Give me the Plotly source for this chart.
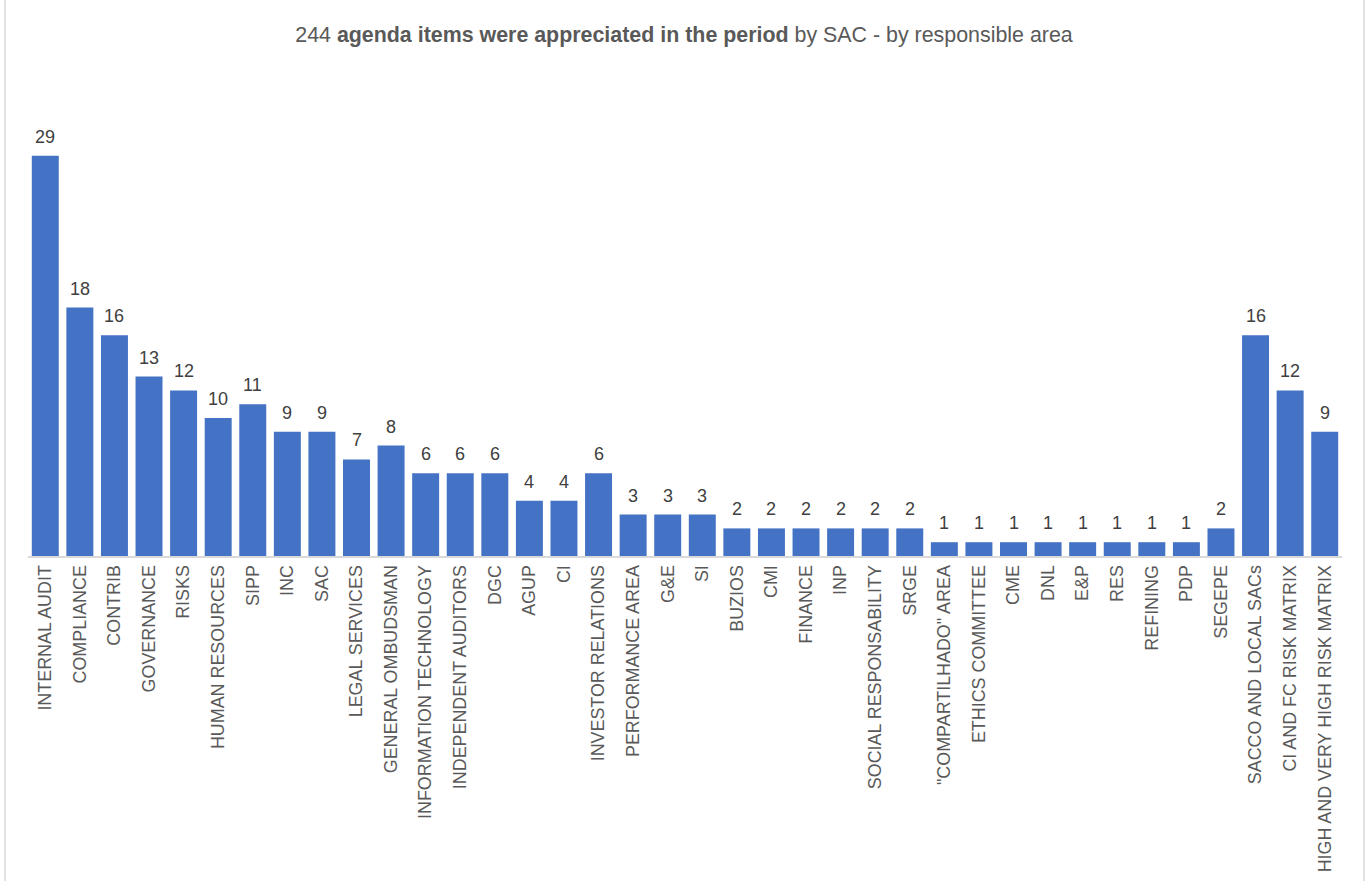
import plotly.graph_objects as go

categories = ["INTERNAL AUDIT", "COMPLIANCE", "CONTRIB", "GOVERNANCE", "RISKS",
              "HUMAN RESOURCES", "SIPP", "INC", "SAC", "LEGAL SERVICES",
              "GENERAL OMBUDSMAN", "INFORMATION TECHNOLOGY", "INDEPENDENT AUDITORS",
              "DGC", "AGUP", "CI", "INVESTOR RELATIONS", "PERFORMANCE AREA", "G&E",
              "SI", "BUZIOS", "CMI", "FINANCE", "INP", "SOCIAL RESPONSABILITY", "SRGE",
              "\"COMPARTILHADO\" AREA", "ETHICS COMMITTEE", "CME", "DNL", "E&P", "RES",
              "REFINING", "PDP", "SEGEPE", "SACCO AND LOCAL SACs", "CI AND FC RISK MATRIX",
              "HIGH AND VERY HIGH RISK MATRIX"]
values = [29, 18, 16, 13, 12, 10, 11, 9, 9, 7, 8, 6, 6, 6, 4, 4, 6, 3, 3, 3,
          2, 2, 2, 2, 2, 2, 1, 1, 1, 1, 1, 1, 1, 1, 2, 16, 12, 9]

W, H = 1368, 882
L, R, T, B = 28, 26, 73, 326
pw, ph = W - L - R, H - T - B
FONT = "Liberation Sans, Arial"

fig = go.Figure(go.Bar(
    x=categories, y=values,
    marker=dict(color="#4472C4", line=dict(width=0)),
))

for c, v in zip(categories, values):
    fig.add_annotation(
        x=c, y=v, text=str(v), showarrow=False, xanchor="center", yanchor="bottom",
        yshift=7, font=dict(family=FONT, size=18, color="#404040"),
    )

def px_x(p):
    return (p - L) / pw

def px_y(p):
    return (H - B - p) / ph

border = dict(type="line", xref="paper", yref="paper", line=dict(color="#D9D9D9", width=1.5))
fig.add_shape(**border, x0=px_x(5), x1=px_x(5), y0=px_y(0), y1=px_y(881))
fig.add_shape(**border, x0=px_x(1364), x1=px_x(1364), y0=px_y(0), y1=px_y(881))

fig.update_layout(
    width=W, height=H,
    margin=dict(l=L, r=R, t=T, b=B, autoexpand=False),
    paper_bgcolor="white", plot_bgcolor="white",
    bargap=0.22,
    showlegend=False,
    font=dict(family=FONT, color="#595959"),
    title=dict(
        text="244 <b>agenda items were appreciated in the period</b> by SAC - by responsible area",
        x=0.5, xanchor="center", y=1 - 35 / H, yanchor="middle",
        font=dict(size=21.4, color="#595959"),
    ),
    xaxis=dict(
        type="category", tickangle=-90, showline=True, linecolor="#D9D9D9",
        linewidth=2, ticks="", tickfont=dict(size=17.9, color="#595959"),
        showgrid=False, automargin=False,
    ),
    yaxis=dict(range=[0, 35], visible=False, showgrid=False, zeroline=False,
               automargin=False),
)

fig.write_html("out.html")
